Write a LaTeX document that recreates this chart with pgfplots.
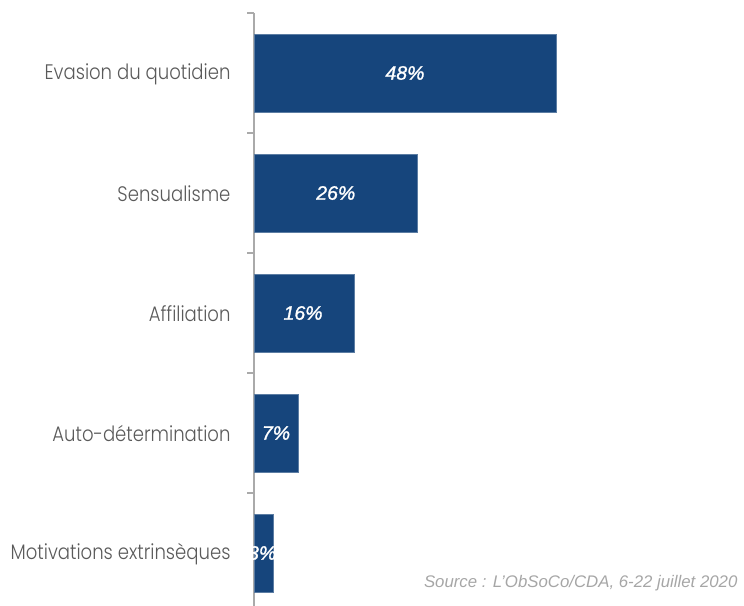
\documentclass[border=0pt]{standalone}
\usepackage{fontspec}
\setmainfont{Liberation Sans}
\newfontfamily\catfont{Poppins Light}[FakeStretch=0.86]
\newfontfamily\valfont{Liberation Sans}[FakeBold=1.2]
\usepackage{pgfplots}
\pgfplotsset{compat=1.18}
\definecolor{barblue}{RGB}{22,69,124}
\definecolor{axisgray}{RGB}{170,170,170}
\definecolor{labelgray}{RGB}{90,90,90}
\definecolor{srcgray}{RGB}{166,166,166}

\begin{document}
\begin{tikzpicture}
\useasboundingbox (0,0) rectangle (744pt,605pt);
\begin{axis}[
    at={(254pt,-8pt)}, anchor=south west,
    scale only axis, width=490pt, height=600pt,
    xmin=0, xmax=77.9, ymin=-0.5, ymax=4.5,
    y dir=reverse,
    axis x line=none, axis y line*=left,
    axis line style={axisgray, line width=1.5pt},
    ytick={0,1,2,3,4},
    yticklabels={Evasion du quotidien, Sensualisme, Affiliation, Auto-détermination, Motivations extrinsèques},
    minor ytick={-0.5,0.5,1.5,2.5,3.5,4.5},
    major tick length=0pt, minor tick length=7pt, tick align=outside,
    tick style={axisgray, line width=1.5pt},
    yticklabel style={font=\catfont\fontsize{21}{24}\selectfont, text=labelgray, xshift=-20pt, yshift=-1pt},
    clip=false,
]
% share of respondents, %
\addplot[xbar, bar width=0.65, fill=barblue, draw=barblue!70!white]
    coordinates {(48,0) (26,1) (16,2) (7,3) (3,4)};

% value labels, centred in the bars
\addplot[only marks, mark=none, point meta=explicit symbolic,
    nodes near coords,
    nodes near coords style={anchor=center, text=white, font=\valfont\itshape\fontsize{19.5}{22}\selectfont}]
    coordinates {(24,0)[48\%] (13,1)[26\%] (7.8,2)[16\%] (3.5,3)[7\%] (1.3,4)[3\%]};
\end{axis}
\node[anchor=base east, text=srcgray, font=\itshape\fontsize{16.8}{18}\selectfont]
    at (741pt,18pt) {Source : L'ObSoCo/CDA, 6-22 juillet 2020};
\end{tikzpicture}
\end{document}
